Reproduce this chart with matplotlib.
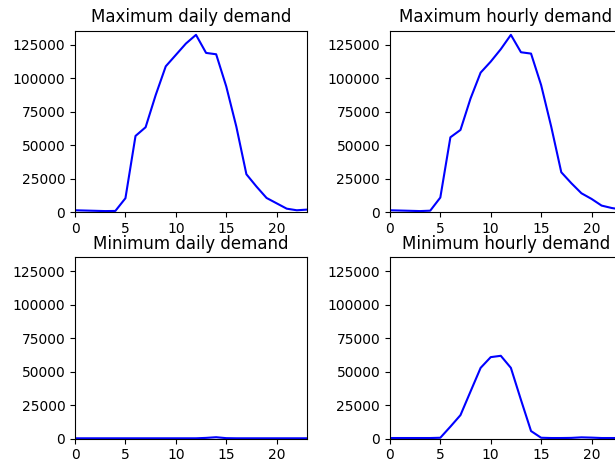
import matplotlib
matplotlib.use("Agg")
import matplotlib.pyplot as plt
import numpy as np

hours = list(range(24))
max_daily = [1500, 1300, 1100, 900, 1000, 10500, 57000, 63500, 87500, 109000, 117500,
             126000, 132500, 119000, 118000, 94000, 64000, 28400, 19200, 10700, 6700,
             2700, 1500, 2000]
max_hourly = [1500, 1300, 1100, 900, 1200, 11000, 56000, 61500, 85000, 104300, 112500,
              121800, 132500, 119500, 118500, 95000, 64000, 29900, 21700, 14200, 10000,
              5000, 3200, 2000]
min_daily = [300, 300, 300, 300, 300, 300, 300, 300, 300, 300, 300,
             300, 300, 600, 1100, 400, 300, 300, 300, 300, 300,
             300, 300, 300]
min_hourly = [500, 500, 500, 500, 500, 700, 9000, 17600, 35300, 52900, 60900,
              61900, 52900, 29000, 5700, 700, 500, 500, 600, 1000, 800,
              500, 500, 500]

titles = ["Maximum daily demand", "Maximum hourly demand",
          "Minimum daily demand", "Minimum hourly demand"]
series = [max_daily, max_hourly, min_daily, min_hourly]

fig = plt.figure(figsize=(6.15, 4.63), dpi=100)
w, h = 0.377, 0.3925
positions = [(0.122, 0.5415), (0.634, 0.5415), (0.122, 0.0525), (0.634, 0.0525)]
for (l, b), t, s in zip(positions, titles, series):
    ax = fig.add_axes([l, b, w, h])
    ax.plot(hours, s, color='b')
    ax.set_title(t)
    ax.set_xlim(0, 23)
    ax.set_ylim(0, 135700)
    ax.set_xticks([0, 5, 10, 15, 20])
    ax.set_yticks([0, 25000, 50000, 75000, 100000, 125000])

fig.savefig("out.png", dpi=100)
